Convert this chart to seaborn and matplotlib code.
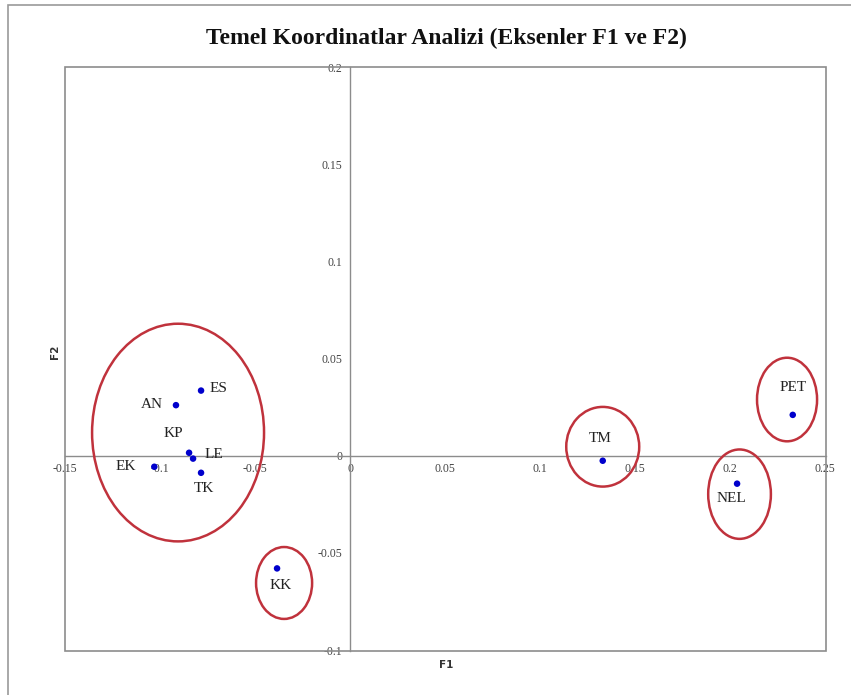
import matplotlib
matplotlib.use("Agg")
import matplotlib.pyplot as plt
from matplotlib.patches import Ellipse, Rectangle
import seaborn as sns
import pandas as pd

# ---- data ----
labels = ["AN", "ES", "KP", "LE", "EK", "TK", "KK", "TM", "NEL", "PET"]
f1 = [-0.0916, -0.0784, -0.0847, -0.0826, -0.1030, -0.0784, -0.0384, 0.1330, 0.2037, 0.2330]
f2 = [0.0260, 0.0335, 0.0015, -0.0015, -0.0057, -0.0088, -0.0580, -0.0026, -0.0144, 0.0210]

# group ellipses (center x, center y, width, height) in data units
ell_cx = [-0.0905, -0.0347, 0.1330, 0.2050, 0.2300]
ell_cy = [0.0119, -0.0655, 0.0046, -0.0198, 0.0289]
ell_w = [0.0905, 0.0295, 0.0384, 0.0330, 0.0316]
ell_h = [0.1120, 0.0370, 0.0410, 0.0460, 0.0430]

xticks = [-0.15, -0.1, -0.05, 0, 0.05, 0.1, 0.15, 0.2, 0.25]
xticklabels = ["-0.15", "-0.1", "-0.05", "0", "0.05", "0.1", "0.15", "0.2", "0.25"]
yticks = [-0.1, -0.05, 0, 0.05, 0.1, 0.15, 0.2]
yticklabels = ["-0.1", "-0.05", "0", "0.05", "0.1", "0.15", "0.2"]

title = "Temel Koordinatlar Analizi (Eksenler F1 ve F2)"

df = pd.DataFrame({"F1": f1, "F2": f2, "label": labels})

sns.set_theme(style="white")
plt.rcParams["font.family"] = ["DejaVu Sans"]

fig = plt.figure(figsize=(8.51, 6.95), dpi=100)
fig.patch.set_facecolor("white")
ax = fig.add_axes([65 / 851, 1 - 651 / 695, 761 / 851, 584 / 695])

sns.scatterplot(data=df, x="F1", y="F2", ax=ax, color="#0000cc", s=22,
                edgecolor="none", zorder=5, legend=False)

ax.set_xlim(-0.15, 0.2505)
ax.set_ylim(-0.1005, 0.2)

# axes through origin
ax.spines["left"].set_position(("data", 0))
ax.spines["bottom"].set_position(("data", 0))
ax.spines["top"].set_visible(False)
ax.spines["right"].set_visible(False)
for s in ["left", "bottom"]:
    ax.spines[s].set_color("#8c8c8c")
    ax.spines[s].set_linewidth(1.0)
ax.add_patch(Rectangle((0, 0), 1, 1, transform=ax.transAxes, fill=False,
                       edgecolor="#8c8c8c", linewidth=1.2, zorder=1, clip_on=False))

ax.set_xticks(xticks)
ax.set_xticklabels(xticklabels)
ax.set_yticks(yticks)
ax.set_yticklabels(yticklabels)
ax.tick_params(axis="both", which="both", direction="inout", length=5, width=0.8,
               color="#bbbbbb", labelsize=8.5, labelcolor="#444444")
ax.tick_params(axis="x", pad=3)
ax.tick_params(axis="y", pad=3)
for t in ax.get_xticklabels() + ax.get_yticklabels():
    t.set_family("Liberation Serif")

ax.set_xlabel("")
ax.set_ylabel("")
fig.text(446 / 851, 1 - 665 / 695, "F1", ha="center", va="center",
         fontsize=7.5, fontweight="bold", color="#333333")
fig.text(55 / 851, 1 - 352 / 695, "F2", ha="center", va="center", rotation=90,
         fontsize=7.5, fontweight="bold", color="#333333")

fig.text(446 / 851, 1 - 38 / 695, title, ha="center", va="center",
         fontsize=17, fontweight="bold", family="Liberation Serif", color="#111111")

# ellipses
for cx, cy, w, h in zip(ell_cx, ell_cy, ell_w, ell_h):
    ax.add_patch(Ellipse((cx, cy), w, h, fill=False, edgecolor="#c0323c",
                         linewidth=1.8, zorder=4))

# point labels (offsets in pixels)
offsets = {
    "AN": (-13, 1, "right", "center"),
    "ES": (8, 2, "left", "center"),
    "KP": (-16, 19, "center", "center"),
    "LE": (21, 4, "center", "center"),
    "EK": (-29, 0, "center", "center"),
    "TK": (3, -16, "center", "center"),
    "KK": (4, -17, "center", "center"),
    "TM": (-3, 22, "center", "center"),
    "NEL": (-6, -15, "center", "center"),
    "PET": (0, 27, "center", "center"),
}
for lab, x, y in zip(labels, f1, f2):
    dx, dy, ha, va = offsets[lab]
    ax.annotate(lab, (x, y), xytext=(dx * 0.72, dy * 0.72), textcoords="offset points",
                ha=ha, va=va, fontsize=11, family="Liberation Serif", color="#222222",
                zorder=6)

# outer frame (left and top edges visible)
fig.add_artist(Rectangle((8 / 851, -0.05), 1.2, 1.05 - 5 / 695, transform=fig.transFigure,
                         fill=False, edgecolor="#9a9a9a", linewidth=1.2))

fig.savefig("out.png", dpi=100, facecolor="white")
